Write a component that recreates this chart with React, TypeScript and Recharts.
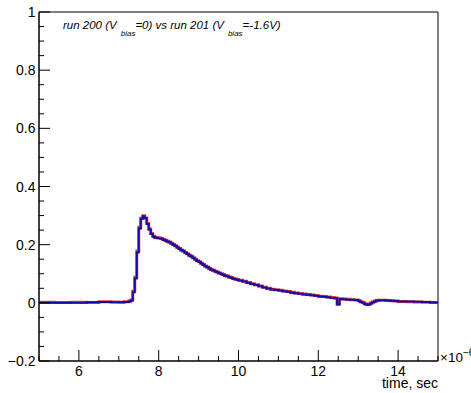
import React from 'react';
import { LineChart, Line, XAxis, YAxis, ReferenceArea } from 'recharts';

// time in units of 1e-6 s (bin left edges)
const time = [
  5.0, 5.4, 5.8, 6.2, 6.5, 6.8, 7.0, 7.13, 7.25, 7.3,
  7.35, 7.4, 7.45, 7.5, 7.55, 7.6, 7.65, 7.7, 7.75, 7.8,
  7.85, 7.9, 7.95, 8.0, 8.05, 8.1, 8.15, 8.2, 8.25, 8.3,
  8.35, 8.4, 8.45, 8.5, 8.55, 8.6, 8.65, 8.7, 8.75, 8.8,
  8.85, 8.9, 8.95, 9.0, 9.05, 9.1, 9.15, 9.2, 9.25, 9.3,
  9.35, 9.4, 9.45, 9.5, 9.55, 9.6, 9.65, 9.7, 9.75, 9.8,
  9.85, 9.9, 9.95, 10.0, 10.1, 10.2, 10.3, 10.4, 10.5, 10.6,
  10.7, 10.8, 10.9, 11.0, 11.1, 11.2, 11.3, 11.4, 11.5, 11.6,
  11.7, 11.8, 11.9, 12.0, 12.1, 12.2, 12.3, 12.4, 12.47, 12.53,
  12.6, 12.7, 12.8, 12.9, 13.0, 13.05, 13.1, 13.15, 13.2, 13.25,
  13.3, 13.35, 13.4, 13.45, 13.5, 13.6, 13.7, 13.8, 13.9, 14.0,
  14.2, 14.4, 14.6, 14.8, 15.0,
];

// run 200, Vbias = 0 (red)
const run200 = [
  0.002, 0.001, 0.002, 0.001, 0.004, 0.003, 0.002, 0.004, 0.006, 0.01,
  0.04, 0.088, 0.178, 0.26, 0.291, 0.299, 0.292, 0.273, 0.254, 0.238,
  0.229, 0.225, 0.224, 0.223, 0.221, 0.218, 0.215, 0.212, 0.209, 0.205,
  0.201, 0.196, 0.191, 0.187, 0.182, 0.178, 0.173, 0.169, 0.164, 0.16,
  0.155, 0.15, 0.145, 0.141, 0.136, 0.132, 0.127, 0.123, 0.119, 0.115,
  0.112, 0.109, 0.106, 0.103, 0.1, 0.097, 0.094, 0.092, 0.089, 0.087,
  0.084, 0.082, 0.08, 0.078, 0.074, 0.07, 0.066, 0.062, 0.058, 0.054,
  0.05, 0.047, 0.045, 0.043, 0.041, 0.039, 0.036, 0.034, 0.032, 0.03,
  0.029, 0.027, 0.025, 0.023, 0.022, 0.02, 0.018, 0.017, -0.004, 0.014,
  0.013, 0.012, 0.011, 0.01, 0.007, 0.004, 0.001, -0.003, -0.006, -0.005,
  -0.001, 0.003, 0.006, 0.008, 0.009, 0.009, 0.008, 0.007, 0.006, 0.005,
  0.004, 0.003, 0.002, 0.001, 0.0,
];

// run 201, Vbias = -1.6V (blue)
const run201 = [
  0.0, 0.0, 0.0, 0.002, 0.003, 0.002, 0.002, 0.003, 0.005, 0.008,
  0.036, 0.084, 0.173, 0.256, 0.289, 0.298, 0.291, 0.271, 0.252, 0.237,
  0.228, 0.224, 0.223, 0.222, 0.22, 0.217, 0.214, 0.211, 0.208, 0.204,
  0.2, 0.195, 0.19, 0.186, 0.181, 0.177, 0.172, 0.168, 0.163, 0.159,
  0.154, 0.149, 0.144, 0.14, 0.135, 0.131, 0.126, 0.122, 0.118, 0.114,
  0.111, 0.108, 0.105, 0.102, 0.099, 0.096, 0.093, 0.091, 0.088, 0.086,
  0.083, 0.081, 0.079, 0.077, 0.073, 0.069, 0.065, 0.061, 0.057, 0.053,
  0.049, 0.046, 0.044, 0.042, 0.04, 0.038, 0.035, 0.033, 0.031, 0.029,
  0.028, 0.026, 0.024, 0.022, 0.021, 0.019, 0.017, 0.016, -0.006, 0.013,
  0.012, 0.011, 0.011, 0.01, 0.006, 0.003, 0.0, -0.004, -0.007, -0.006,
  -0.002, 0.002, 0.005, 0.008, 0.009, 0.009, 0.008, 0.007, 0.006, 0.005,
  0.005, 0.004, 0.003, 0.001, 0.0,
];

const xTicks = [5, 5.5, 6, 6.5, 7, 7.5, 8, 8.5, 9, 9.5, 10, 10.5, 11, 11.5, 12, 12.5, 13, 13.5, 14, 14.5, 15];
const xLabels = [6, 8, 10, 12, 14];
const yTicks = [
  -0.2, -0.15, -0.1, -0.05, 0, 0.05, 0.1, 0.15, 0.2, 0.25, 0.3, 0.35, 0.4, 0.45, 0.5, 0.55, 0.6, 0.65, 0.7, 0.75,
  0.8, 0.85, 0.9, 0.95, 1,
];
const yLabels: Record<string, string> = { '-0.2': '\u22120.2', '0': '0', '0.2': '0.2', '0.4': '0.4', '0.6': '0.6', '0.8': '0.8', '1': '1' };

const data = time.map((t, i) => ({ t, run200: run200[i], run201: run201[i] }));

const FONT = '"Liberation Sans", Arial, Helvetica, sans-serif';

const XTick = (props: any) => {
  const { x, y, payload } = props;
  const major = xLabels.includes(payload.value);
  return (
    <g>
      <line x1={x} y1={y} x2={x} y2={y - (major ? 11 : 5)} stroke="#000" strokeWidth={1} />
      {major && (
        <text x={x} y={y + 15} textAnchor="middle" fontSize={14} fontFamily={FONT} fill="#000">
          {payload.value}
        </text>
      )}
    </g>
  );
};

const YTick = (props: any) => {
  const { x, y, payload } = props;
  const key = String(Math.round(payload.value * 100) / 100);
  const label = yLabels[key];
  return (
    <g>
      <line x1={x} y1={y} x2={x + (label ? 11 : 5)} y2={y} stroke="#000" strokeWidth={1} />
      {label && (
        <text x={x - 3.5} y={y + 5} textAnchor="end" fontSize={14} fontFamily={FONT} fill="#000">
          {label}
        </text>
      )}
    </g>
  );
};

export default function App() {
  return (
    <div style={{ position: 'absolute', left: 0, top: 0, width: 471, height: 393, background: '#fff' }}>
      <LineChart width={471} height={393} data={data} margin={{ top: 12, right: 33, bottom: 2, left: 0 }}>
        <XAxis
          dataKey="t"
          type="number"
          domain={[5, 15]}
          ticks={xTicks}
          interval={0}
          tickSize={0}
          tickMargin={0}
          tickLine={false}
          tick={<XTick />}
          height={30}
          stroke="#000"
          allowDataOverflow
        />
        <YAxis
          type="number"
          domain={[-0.2, 1]}
          ticks={yTicks}
          interval={0}
          tickSize={0}
          tickMargin={0}
          tickLine={false}
          tick={<YTick />}
          width={39}
          stroke="#000"
          allowDataOverflow
        />
        <ReferenceArea x1={5} x2={15} y1={-0.2} y2={1} fill="none" stroke="#000" strokeWidth={1} fillOpacity={0} />
        <Line dataKey="run200" type="stepAfter" stroke="#f03a3a" strokeWidth={3} dot={false} isAnimationActive={false} />
        <Line dataKey="run201" type="stepAfter" stroke="#0c0caa" strokeWidth={2} dot={false} isAnimationActive={false} />
      </LineChart>
      <svg width={471} height={393} style={{ position: 'absolute', left: 0, top: 0, pointerEvents: 'none' }}>
        <text x={63} y={29} fontSize={11.5} fontStyle="italic" fontFamily={FONT} fill="#000">
          <tspan>run 200 (V</tspan>
          <tspan dx={4} dy={6.5} fontSize={8}>bias</tspan>
          <tspan dy={-6.5}>=0) vs run 201 (V</tspan>
          <tspan dx={4} dy={6.5} fontSize={8}>bias</tspan>
          <tspan dy={-6.5}>=-1.6V)</tspan>
        </text>
        <text x={440} y={362} fontSize={13.5} fontFamily={FONT} fill="#000">
          {'\u00d710'}
          <tspan dy={-6} fontSize={10}>{'\u22126'}</tspan>
        </text>
        <text x={438} y={388} textAnchor="end" fontSize={14} fontFamily={FONT} fill="#000">
          time, sec
        </text>
      </svg>
    </div>
  );
}
